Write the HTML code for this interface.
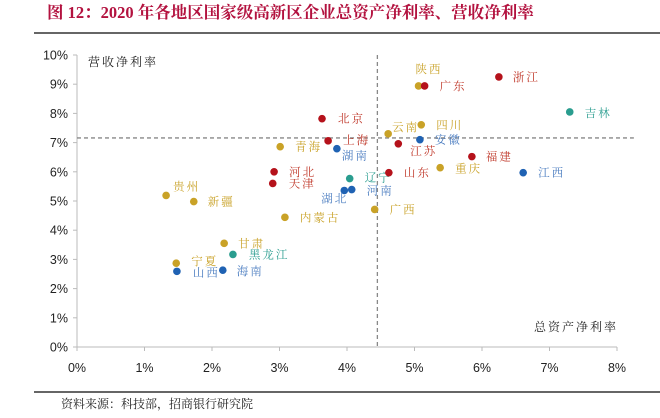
<!DOCTYPE html>
<html><head><meta charset="utf-8">
<style>
html,body{margin:0;padding:0;background:#fff;}
svg{display:block;}
.t{font-family:"Liberation Serif","Noto Serif CJK SC",serif;}
.lab{font-family:"Liberation Serif","Noto Serif CJK SC",serif;font-size:11.5px;letter-spacing:2px;}
.tick{font-family:"Liberation Sans",sans-serif;font-size:12.5px;fill:#222;}
</style></head>
<body>
<svg id="chart" width="660" height="418" viewBox="0 0 660 418" xmlns="http://www.w3.org/2000/svg">
<text x="47" y="18" class="t" font-size="16.5" font-weight="bold" fill="#b3123f">图 12：2020 年各地区国家级高新区企业总资产净利率、营收净利率</text>
<line x1="34" y1="33" x2="660" y2="33" stroke="#333" stroke-width="1.5"/>
<line x1="34" y1="392" x2="660" y2="392" stroke="#333" stroke-width="1.5"/>
<text x="61" y="408" class="t" font-size="12" fill="#222">资料来源：科技部，招商银行研究院</text>
<g id="axes"></g>
<g id="marks"></g>
<text x="88" y="66" class="t" font-size="12" fill="#222" letter-spacing="2">营收净利率</text>
<text x="534" y="331" class="t" font-size="12" fill="#222" letter-spacing="2">总资产净利率</text>
</svg>
<script>
const names=['北京','上海','湖南','青海','河北','天津','辽宁','湖北','河南','广西','内蒙古','贵州','新疆','甘肃','黑龙江','宁夏','山西','海南','陕西','广东','浙江','吉林','云南','四川','安徽','江苏','福建','山东','重庆','江西'];
const roa=[3.63,3.72,3.85,3.01,2.92,2.90,4.04,3.96,4.07,4.41,3.08,1.32,1.73,2.18,2.31,1.47,1.48,2.16,5.06,5.15,6.25,7.30,4.61,5.10,5.08,4.76,5.85,4.62,5.38,6.61];
const ros=[7.82,7.06,6.79,6.86,6.00,5.60,5.77,5.36,5.39,4.71,4.44,5.19,4.98,3.55,3.17,2.87,2.59,2.63,8.94,8.94,9.25,8.05,7.30,7.61,7.10,6.96,6.52,5.97,6.14,5.97];
const groups=['r','r','b','g','r','r','t','b','b','g','g','g','g','g','t','g','b','b','g','r','r','t','g','g','b','r','r','r','g','b'];
const xTicks=['0%','1%','2%','3%','4%','5%','6%','7%','8%'];
const yTicks=['0%','1%','2%','3%','4%','5%','6%','7%','8%','9%','10%'];
const avgRoa=4.45, avgRos=7.16;
const labelOff=[[16,0],[15,-1],[5,7],[15,0],[15,0],[16,0],[15,-1],[-23,8],[15,1],[15,0],[15,0],[7,-9],[14,0],[14,0],[16,0],[15,-2],[16,1],[14,1],[-3,-17],[15,0],[14,0],[15,1],[4,-7],[15,0],[15,0],[12,7],[14,0],[15,0],[15,1],[15,0]];
const colors={r:'#b5121b',g:'#c9a227',b:'#1f62b3',t:'#2a9d8f'};
const lcolors={r:'#c0392b',g:'#c9a227',b:'#4a7cc0',t:'#2a9d8f'};
const X0=77,XS=67.5,Y0=347,YS=29.2;
const sx=v=>X0+v*XS, sy=v=>Y0-v*YS;
const NS='http://www.w3.org/2000/svg';
const ax=document.getElementById('axes'), mk=document.getElementById('marks');
function mkEl(tag,attrs,parent){const e=document.createElementNS(NS,tag);for(const k in attrs)e.setAttribute(k,attrs[k]);parent.appendChild(e);return e;}
let l=mkEl('line',{x1:X0,y1:sy(10),x2:X0,y2:Y0,stroke:'#bbb'},ax);


l=mkEl('line',{x1:X0,y1:Y0,x2:sx(8),y2:Y0,stroke:'#bbb'},ax);


yTicks.forEach((t,i)=>{
  const tk=mkEl('line',{x1:X0-4,y1:sy(i),x2:X0,y2:sy(i),stroke:'#bbb'},ax);
  
  
  const tx=mkEl('text',{x:X0-9,y:sy(i)+4.5,'text-anchor':'end',class:'tick'},ax);tx.textContent=t;
  
  
});
xTicks.forEach((t,i)=>{
  const tk=mkEl('line',{x1:sx(i),y1:Y0,x2:sx(i),y2:Y0+4,stroke:'#bbb'},ax);
  
  
  const tx=mkEl('text',{x:sx(i),y:Y0+25,'text-anchor':'middle',class:'tick'},ax);tx.textContent=t;
  
  
});
l=mkEl('line',{x1:sx(avgRoa),y1:sy(10),x2:sx(avgRoa),y2:Y0,stroke:'#888','stroke-dasharray':'4,3','stroke-width':1.3},ax);


l=mkEl('line',{x1:X0,y1:sy(avgRos),x2:sx(8.25),y2:sy(avgRos),stroke:'#888','stroke-dasharray':'4,3','stroke-width':1.3},ax);


names.forEach((n,i)=>{
  const cx=sx(roa[i]), cy=sy(ros[i]);
  const c=mkEl('circle',{cx:cx,cy:cy,r:3.8,fill:colors[groups[i]]},mk);
  
  
  const t=mkEl('text',{x:cx+labelOff[i][0],y:cy+labelOff[i][1]+4,class:'lab',fill:lcolors[groups[i]]},mk);
  t.textContent=n;
  
  
});
</script>
</body></html>
